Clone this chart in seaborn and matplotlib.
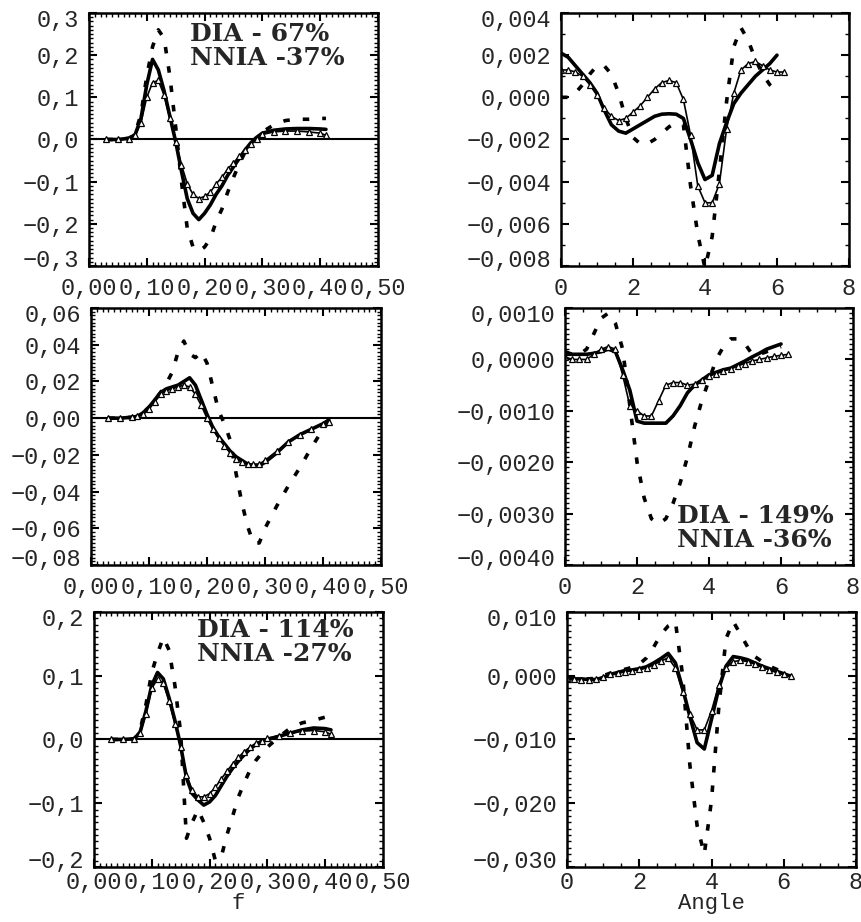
import numpy as np
import pandas as pd
import matplotlib
matplotlib.use("Agg")
import matplotlib.pyplot as plt
import seaborn as sns
from matplotlib.ticker import AutoMinorLocator
from matplotlib.transforms import ScaledTranslation

# frequency grid (left column) and angle grid (right column)
freq = [0.03, 0.05, 0.07, 0.08, 0.09, 0.10, 0.11, 0.12, 0.13, 0.14, 0.15, 0.16,
        0.17, 0.18, 0.19, 0.20, 0.21, 0.22, 0.23, 0.24, 0.25, 0.26, 0.27, 0.28,
        0.29, 0.30, 0.32, 0.34, 0.36, 0.38, 0.40, 0.41]
angle = [0.0, 0.2, 0.4, 0.6, 0.8, 1.0, 1.2, 1.4, 1.6, 1.8, 2.0, 2.2, 2.4, 2.6,
         2.8, 3.0, 3.2, 3.4, 3.6, 3.8, 4.0, 4.2, 4.4, 4.6, 4.8, 5.0, 5.2, 5.4,
         5.6, 5.8, 6.0, 6.2]
nan = np.nan

# row 1, frequency
exact_f1 = [0.0, 0.0, 0.003, 0.012, 0.05, 0.13, 0.19, 0.165, 0.115, 0.055, -0.005, -0.075,
            -0.14, -0.175, -0.19, -0.175, -0.155, -0.13, -0.11, -0.085, -0.065, -0.045, -0.025, -0.008,
            0.005, 0.015, 0.022, 0.025, 0.026, 0.026, 0.025, 0.024]
nnia_f1 = [0.0, 0.0, 0.002, 0.01, 0.04, 0.10, 0.135, 0.14, 0.105, 0.05, -0.005, -0.06,
           -0.105, -0.13, -0.14, -0.135, -0.125, -0.105, -0.09, -0.07, -0.055, -0.04, -0.025, -0.01,
           0.002, 0.012, 0.018, 0.02, 0.02, 0.018, 0.015, 0.01]
dia_f1 = [0.0, 0.0, 0.003, 0.015, 0.06, 0.15, 0.22, 0.26, 0.24, 0.15, 0.03, -0.10,
          -0.21, -0.255, -0.265, -0.255, -0.235, -0.195, -0.165, -0.125, -0.09, -0.058, -0.03, -0.01,
          0.005, 0.018, 0.035, 0.045, 0.048, 0.048, 0.05, 0.05]

# row 2, frequency
exact_f2 = [0.0, 0.0, 0.0005, 0.001, 0.003, 0.006, 0.01, 0.014, 0.016, 0.017, 0.018, 0.02,
            0.022, 0.018, 0.01, 0.002, -0.005, -0.01, -0.014, -0.018, -0.021, -0.023, -0.025, -0.026,
            -0.026, -0.024, -0.019, -0.013, -0.009, -0.006, -0.003, -0.001]
nnia_f2 = [0.0, 0.0, 0.0005, 0.001, 0.002, 0.005, 0.009, 0.013, 0.015, 0.016, 0.017, 0.018,
           0.017, 0.013, 0.007, 0.0, -0.006, -0.011, -0.015, -0.019, -0.022, -0.024, -0.025, -0.025,
           -0.025, -0.023, -0.018, -0.013, -0.009, -0.006, -0.003, -0.002]
dia_f2 = [0.0, 0.0, 0.0005, 0.001, 0.003, 0.006, 0.01, 0.014, 0.019, 0.025, 0.036, 0.042,
          0.035, 0.033, 0.036, 0.03, 0.017, 0.004, -0.003, -0.012, -0.03, -0.046, -0.059, -0.068,
          -0.068, -0.06, -0.048, -0.037, -0.027, -0.016, -0.006, -0.002]

# row 3, frequency
exact_f3 = [0.0, 0.0, 0.001, 0.012, 0.045, 0.085, 0.105, 0.095, 0.065, 0.03, -0.01, -0.06,
            -0.085, -0.095, -0.103, -0.098, -0.088, -0.073, -0.058, -0.045, -0.034, -0.024, -0.015, -0.008,
            -0.003, 0.0, 0.005, 0.01, 0.015, 0.018, 0.017, 0.015]
nnia_f3 = [0.0, 0.0, 0.001, 0.01, 0.04, 0.08, 0.095, 0.088, 0.06, 0.025, -0.012, -0.055,
           -0.08, -0.09, -0.09, -0.085, -0.075, -0.062, -0.05, -0.038, -0.028, -0.019, -0.012, -0.006,
           -0.002, 0.002, 0.006, 0.01, 0.013, 0.014, 0.012, 0.008]
dia_f3 = [0.0, 0.0, 0.001, 0.015, 0.055, 0.105, 0.135, 0.16, 0.14, 0.085, 0.01, -0.155,
          -0.13, -0.11, -0.13, -0.155, -0.19, -0.185, -0.15, -0.12, -0.09, -0.068, -0.048, -0.033,
          -0.022, -0.012, 0.004, 0.018, 0.026, 0.03, 0.035, 0.036]

# row 1, angle
exact_a1 = [0.0021, 0.0019, 0.0015, 0.0011, 0.0007, 0.0002, -0.0006, -0.0013, -0.0016, -0.0017,
            -0.0015, -0.0013, -0.0011, -0.0009, -0.0008, -0.00078, -0.0008, -0.001, -0.002, -0.0031,
            -0.0039, -0.0037, -0.0022, -0.0012, -0.0003, 0.0002, 0.0006, 0.001, 0.0013, 0.0016,
            0.0020, nan]
nnia_a1 = [0.0013, 0.0013, 0.0012, 0.0010, 0.0006, 0.0001, -0.0005, -0.0009, -0.0011, -0.001,
           -0.0007, -0.0004, 0.0, 0.0004, 0.0007, 0.0008, 0.0007, -0.0001, -0.0018, -0.0042,
           -0.005, -0.005, -0.0041, -0.0015, 0.0002, 0.0013, 0.0016, 0.0017, 0.0015, 0.0013,
           0.0012, 0.0012]
dia_a1 = [0.0, 0.0, 0.0002, 0.0006, 0.0011, 0.0015, 0.0015, 0.0011, 0.0002, -0.001,
          -0.0019, -0.0022, -0.0022, -0.002, -0.0017, -0.0014, -0.0012, -0.0013, -0.0042, -0.0065,
          -0.0081, -0.0066, -0.0035, -0.0002, 0.0024, 0.0033, 0.0027, 0.0018, 0.0011, 0.0006,
          0.0003, nan]

# row 2, angle
exact_a2 = [0.00015, 0.0001, 0.0001, 0.0001, 0.00012, 0.00015, 0.0002, 0.00015, -0.0002, -0.0006,
            -0.0012, -0.00124, -0.00124, -0.00124, -0.00124, -0.0011, -0.0009, -0.00065, -0.0005, -0.0004,
            -0.0003, -0.00025, -0.0002, -0.00017, -0.0001, -0.00003, 0.00005, 0.00012, 0.0002, 0.00025,
            0.0003, nan]
nnia_a2 = [0.00005, 0.0, 0.0, 0.0, 0.0001, 0.0002, 0.00025, 0.0002, -0.0003, -0.0009,
           -0.001, -0.0011, -0.0011, -0.0008, -0.0005, -0.00045, -0.00045, -0.0005, -0.00048, -0.0004,
           -0.00032, -0.00028, -0.00022, -0.00018, -0.00012, -0.00008, -0.00003, 0.0, 0.00003, 0.00006,
           0.00008, 0.0001]
dia_a2 = [0.0001, 0.0001, 0.0001, 0.0002, 0.0005, 0.0008, 0.0009, 0.0007, 0.0002, -0.0009,
          -0.002, -0.0027, -0.0031, -0.0032, -0.0031, -0.0028, -0.0024, -0.0019, -0.0013, -0.0008,
          -0.0004, 0.0, 0.00025, 0.0004, 0.0004, 0.0003, 0.0001, 0.0001, 0.00015, 0.0002,
          0.00025, nan]

# row 3, angle
exact_a3 = [-0.0004, -0.0005, -0.0005, -0.0006, -0.0006, -0.0003, 0.0002, 0.0005, 0.0008, 0.0009,
            0.0011, 0.0014, 0.002, 0.0027, 0.0035, 0.002, -0.002, -0.0064, -0.0105, -0.0115,
            -0.0068, -0.002, 0.0015, 0.003, 0.0028, 0.0025, 0.002, 0.0015, 0.0011, 0.0007,
            0.0003, -0.0001]
nnia_a3 = [-0.0004, -0.0005, -0.0006, -0.0006, -0.0005, -0.0002, 0.0002, 0.0004, 0.0006, 0.0008,
           0.001, 0.0012, 0.0017, 0.0023, 0.0028, 0.0012, -0.0025, -0.006, -0.0085, -0.0085,
           -0.0055, -0.0015, 0.0012, 0.0022, 0.0024, 0.0022, 0.0018, 0.0013, 0.0009, 0.0005,
           0.0002, -0.0001]
dia_a3 = [-0.0004, -0.0005, -0.0005, -0.0005, -0.0004, 0.0, 0.0004, 0.0007, 0.001, 0.0013,
          0.0018, 0.0028, 0.0045, 0.0065, 0.0078, 0.0085, 0.0, -0.014, -0.0235, -0.028,
          -0.0195, -0.005, 0.0058, 0.0085, 0.0065, 0.0045, 0.003, 0.0022, 0.0015, 0.001,
          0.0005, nan]

# tick values and labels
m = "\u2212"
f_ticks = [0.0, 0.1, 0.2, 0.3, 0.4, 0.5]
f_labels = ["0,00", "0,10", "0,20", "0,30", "0,40", "0,50"]
a_ticks = [0, 2, 4, 6, 8]
a_labels = ["0", "2", "4", "6", "8"]
y1_ticks = [0.3, 0.2, 0.1, 0.0, -0.1, -0.2, -0.3]
y1_labels = ["0,3", "0,2", "0,1", "0,0", m + "0,1", m + "0,2", m + "0,3"]
y2_ticks = [0.004, 0.002, 0.0, -0.002, -0.004, -0.006, -0.008]
y2_labels = ["0,004", "0,002", "0,000", m + "0,002", m + "0,004", m + "0,006", m + "0,008"]
y3_ticks = [0.06, 0.04, 0.02, 0.0, -0.02, -0.04, -0.06, -0.08]
y3_labels = ["0,06", "0,04", "0,02", "0,00", m + "0,02", m + "0,04", m + "0,06", m + "0,08"]
y4_ticks = [0.001, 0.0, -0.001, -0.002, -0.003, -0.004]
y4_labels = ["0,0010", "0,0000", m + "0,0010", m + "0,0020", m + "0,0030", m + "0,0040"]
y5_ticks = [0.2, 0.1, 0.0, -0.1, -0.2]
y5_labels = ["0,2", "0,1", "0,0", m + "0,1", m + "0,2"]
y6_ticks = [0.01, 0.0, -0.01, -0.02, -0.03]
y6_labels = ["0,010", "0,000", m + "0,010", m + "0,020", m + "0,030"]

notes = ["DIA - 67%\nNNIA -37%", "DIA - 149%\nNNIA -36%", "DIA - 114%\nNNIA -27%"]

sns.set_style("ticks")
plt.rcParams["font.family"] = ["Liberation Mono", "DejaVu Sans Mono"]
plt.rcParams["axes.linewidth"] = 1.8

fig = plt.figure(figsize=(8.62, 9.22), dpi=100)


def panel(rect, x, exact, nnia, dia, xlim, xt, xl, ylim, yt, yl, xminor, yminor, zero, xpad=8):
    ax = fig.add_axes(rect)
    if zero:
        ax.axhline(0, color="black", lw=1.5, zorder=1)
    sns.lineplot(x=x, y=dia, ax=ax, color="black", lw=2.6,
                 linestyle=(0, (1.8, 3.6)), errorbar=None)
    sns.lineplot(x=x, y=exact, ax=ax, color="black", lw=2.6, errorbar=None)
    sns.lineplot(x=x, y=nnia, ax=ax, color="black", lw=1.2, marker="^",
                 markersize=5, markerfacecolor="white", markeredgecolor="black",
                 markeredgewidth=0.9, errorbar=None)
    ax.set_xlim(xlim)
    ax.set_ylim(ylim)
    ax.set_xticks(xt)
    ax.set_xticklabels(xl)
    ax.set_yticks(yt)
    ax.set_yticklabels(yl)
    ax.xaxis.set_minor_locator(AutoMinorLocator(xminor))
    ax.yaxis.set_minor_locator(AutoMinorLocator(yminor))
    ax.tick_params(which="both", direction="in", top=True, right=True,
                   color="black", labelsize=17)
    ax.tick_params(which="major", length=6, width=1.5)
    ax.tick_params(which="minor", length=3, width=1.0)
    ax.tick_params(axis="y", pad=7)
    ax.tick_params(axis="x", pad=xpad)
    # end labels sit a little inside the frame, as in the original
    for tick in ax.yaxis.get_major_ticks():
        lab = tick.label1
        if np.isclose(tick.get_loc(), max(yt)):
            lab.set_transform(lab.get_transform() + ScaledTranslation(0, -0.05, fig.dpi_scale_trans))
        elif np.isclose(tick.get_loc(), min(yt)):
            lab.set_transform(lab.get_transform() + ScaledTranslation(0, 0.08, fig.dpi_scale_trans))
    for s in ax.spines.values():
        s.set_visible(True)
        s.set_color("black")
    ax.set_xlabel("")
    ax.set_ylabel("")
    return ax


ax1 = panel([0.1032, 0.7115, 0.3353, 0.2744], freq, exact_f1, nnia_f1, dia_f1,
            (0, 0.5), f_ticks, f_labels, (-0.3, 0.3), y1_ticks, y1_labels, 10, 10, True)
ax2 = panel([0.6508, 0.7115, 0.3341, 0.2744], angle, exact_a1, nnia_a1, dia_a1,
            (0, 8), a_ticks, a_labels, (-0.008, 0.004), y2_ticks, y2_labels, 4, 2, False)
ax3 = panel([0.1056, 0.3872, 0.3364, 0.2787], freq, exact_f2, nnia_f2, dia_f2,
            (0, 0.5), f_ticks, f_labels, (-0.08, 0.06), y3_ticks, y3_labels, 10, 10, True)
ax4 = panel([0.6555, 0.3872, 0.3341, 0.2787], angle, exact_a2, nnia_a2, dia_a2,
            (0, 8), a_ticks, a_labels, (-0.004, 0.001), y4_ticks, y4_labels, 4, 10, False)
ax5 = panel([0.1090, 0.0597, 0.3353, 0.2766], freq, exact_f3, nnia_f3, dia_f3,
            (0, 0.5), f_ticks, f_labels, (-0.2, 0.2), y5_ticks, y5_labels, 10, 10, True, xpad=3)
ax6 = panel([0.6578, 0.0597, 0.3353, 0.2766], angle, exact_a3, nnia_a3, dia_a3,
            (0, 8), a_ticks, a_labels, (-0.03, 0.01), y6_ticks, y6_labels, 4, 10, False, xpad=3)

note_kw = dict(family="DejaVu Serif", fontweight="bold", fontsize=18,
               linespacing=1.0, ha="left")
ax1.text(0.35, 0.965, notes[0], transform=ax1.transAxes, va="top", **note_kw)
ax4.text(0.39, 0.05, notes[1], transform=ax4.transAxes, va="bottom", **note_kw)
ax5.text(0.355, 0.975, notes[2], transform=ax5.transAxes, va="top", **note_kw)

ax5.set_xlabel("f", fontsize=16, labelpad=-1)
ax6.set_xlabel("Angle", fontsize=16, labelpad=-1)

fig.savefig("out.png", dpi=100)
